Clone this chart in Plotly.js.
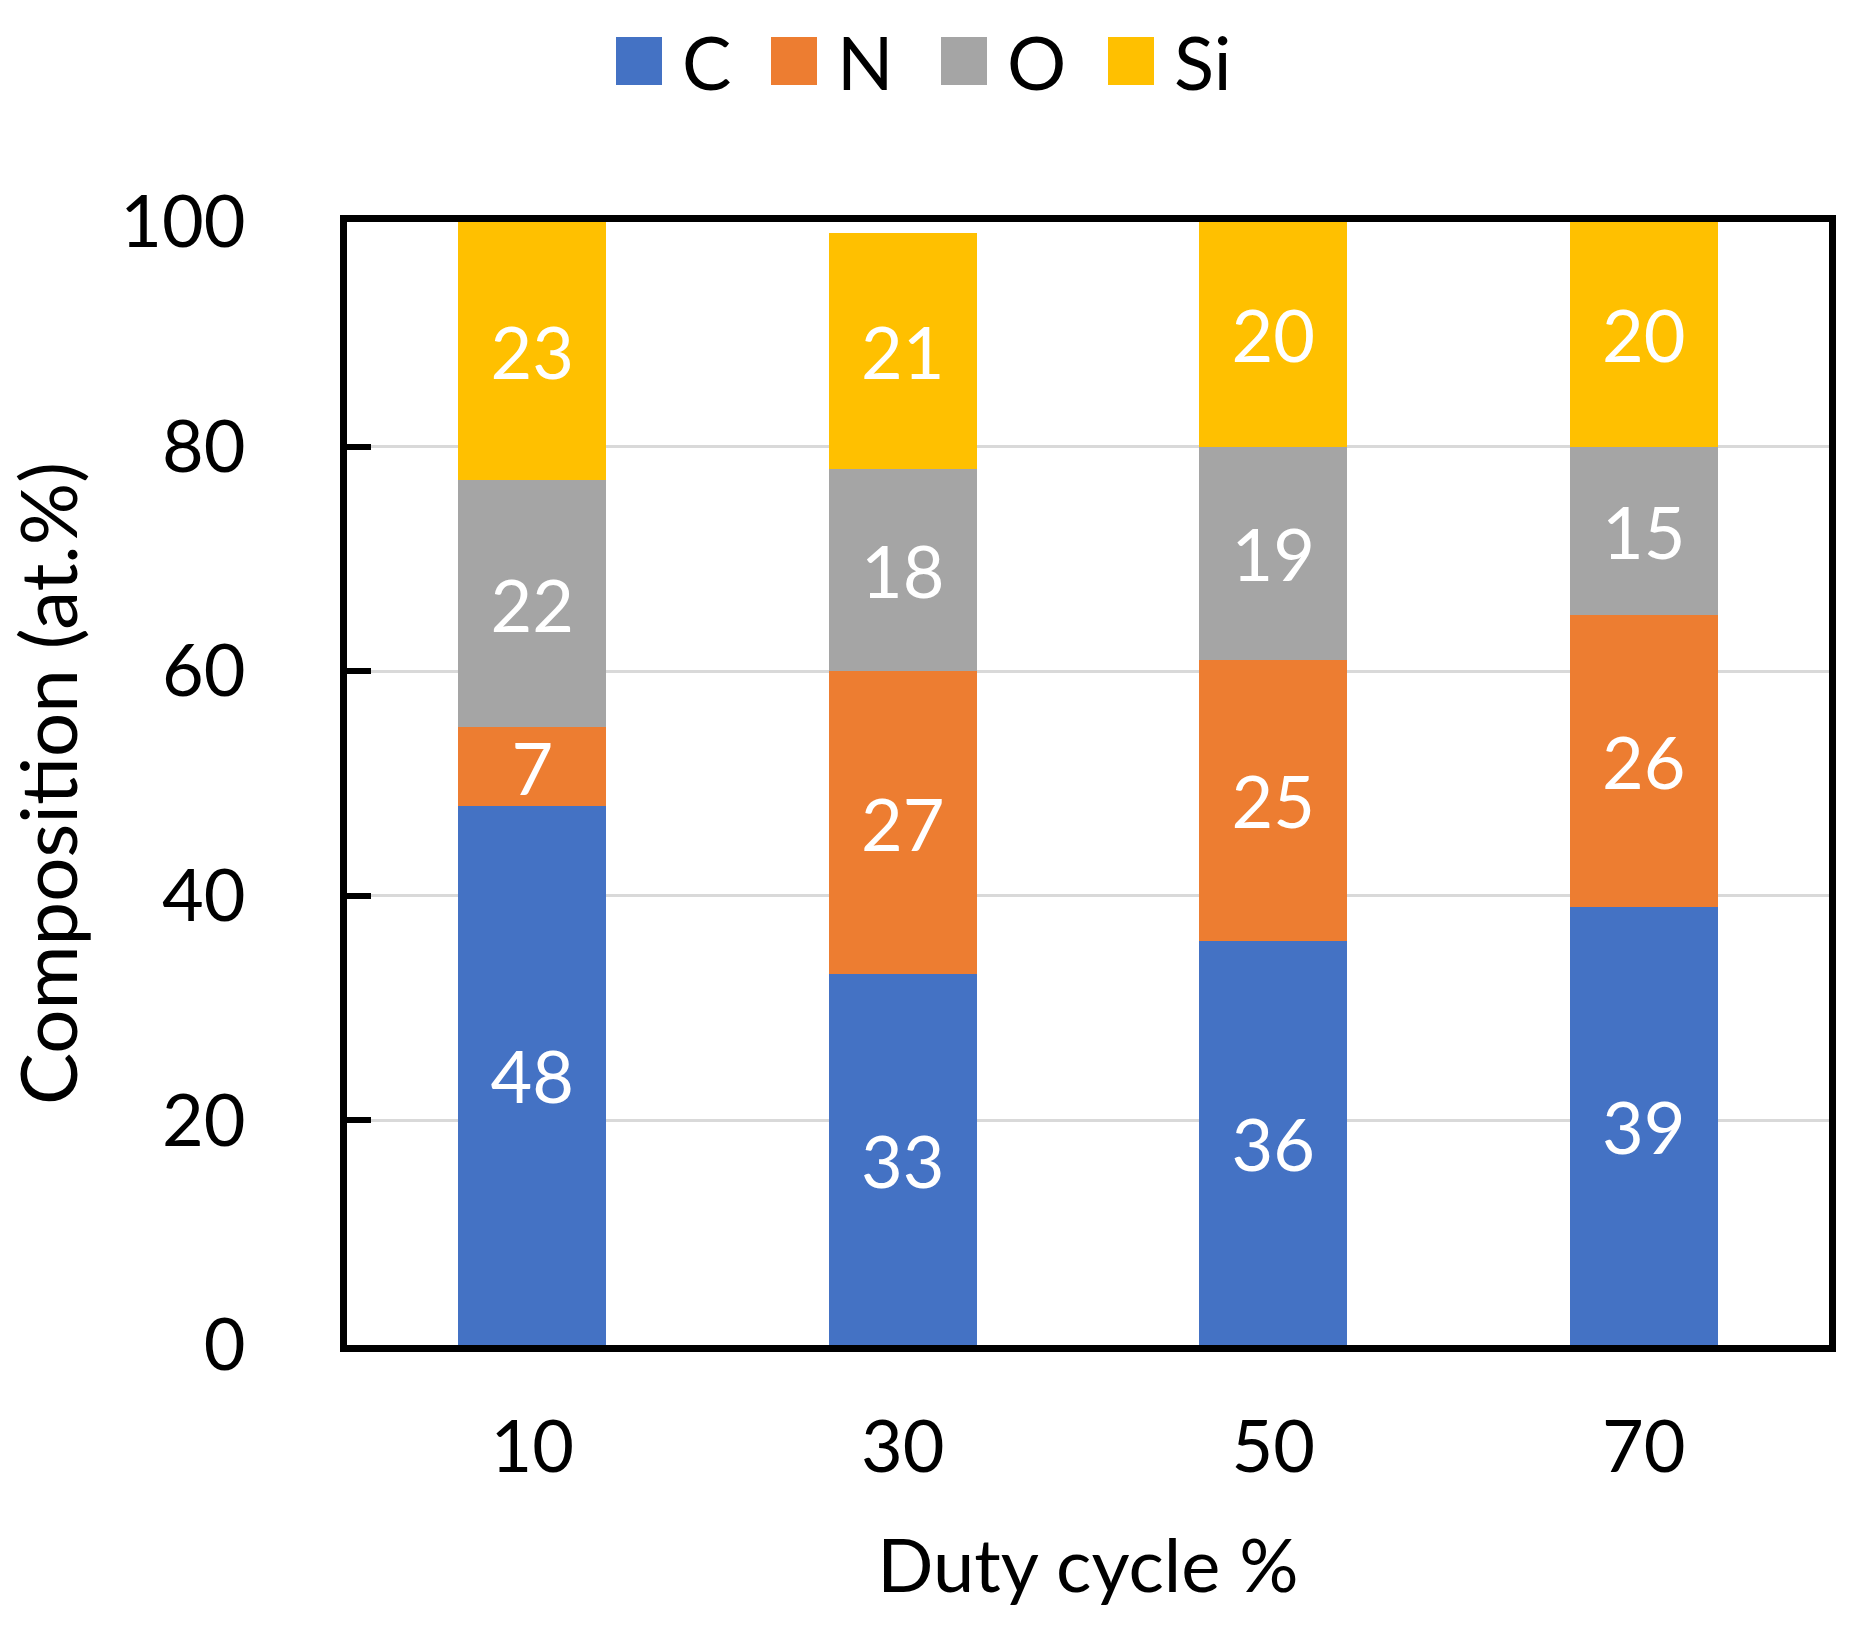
<!DOCTYPE html>
<html>
<head>
<meta charset="utf-8">
<script src="https://cdn.plot.ly/plotly-3.0.1.min.js"></script>
<style>
  body { margin: 0; background: #fff; }
  #chart { width: 1855px; height: 1640px; }
</style>
</head>
<body>
<div id="chart"></div>
<script>
// duty cycle categories
var dutyCycle = ["10", "30", "50", "70"];

// composition (at.%) per element
var elements = ["C", "N", "O", "Si"];
var carbon   = [48, 33, 36, 39];
var nitrogen = [7, 27, 25, 26];
var oxygen   = [22, 18, 19, 15];
var silicon  = [23, 21, 20, 20];

var yTicks = [0, 20, 40, 60, 80, 100];

var colors = ["#4472C4", "#ED7D31", "#A5A5A5", "#FFC000"];
var series = [carbon, nitrogen, oxygen, silicon];

var font = "Lato, 'Open Sans', sans-serif";

// plot box in pixels
var W = 1855, H = 1640;
var L = 347, R = 1829, T = 222, B = 1345;

var traces = series.map(function (vals, i) {
    return {
        type: "bar",
        name: elements[i],
        x: dutyCycle,
        y: vals,
        marker: { color: colors[i] },
        text: vals.map(String),
        textposition: "inside",
        insidetextanchor: "middle",
        constraintext: "none",
        textangle: 0,
        textfont: { family: font, size: 72, color: "#ffffff" },
        hoverinfo: "x+y+name",
        showlegend: false
    };
});

// legend drawn by hand so the swatches can be large
var legendLeft = [616, 771, 941, 1108];
var px = function (x) { return (x - L) / (R - L); };
var py = function (y) { return (B - y) / (B - T); };

var shapes = [];
var annotations = [];
elements.forEach(function (name, i) {
    shapes.push({
        type: "rect", xref: "paper", yref: "paper",
        x0: px(legendLeft[i]), x1: px(legendLeft[i] + 46),
        y0: py(85), y1: py(37),
        fillcolor: colors[i], line: { width: 0 }
    });
    annotations.push({
        xref: "paper", yref: "paper",
        x: px(legendLeft[i] + 64), y: py(62),
        xanchor: "left", yanchor: "middle",
        text: name, showarrow: false,
        font: { family: font, size: 74, color: "#000" }
    });
});

var layout = {
    width: W,
    height: H,
    margin: { l: L, r: W - R, t: T, b: H - B, pad: 0 },
    paper_bgcolor: "#ffffff",
    plot_bgcolor: "#ffffff",
    barmode: "stack",
    bargap: 0.6,
    showlegend: false,
    font: { family: font, size: 72, color: "#000" },
    xaxis: {
        type: "category",
        showline: true, mirror: true,
        linecolor: "#000", linewidth: 7,
        ticks: "",
        ticklabelstandoff: 34,
        tickfont: { family: font, size: 72, color: "#000" },
        title: { text: "Duty cycle %", standoff: 56, font: { family: font, size: 74, color: "#000" } }
    },
    yaxis: {
        range: [0, 100],
        tickvals: yTicks,
        ticktext: yTicks.map(String),
        showline: true, mirror: true,
        linecolor: "#000", linewidth: 7,
        ticks: "inside", ticklen: 24, tickwidth: 6, tickcolor: "#000",
        ticklabelstandoff: 80,
        showgrid: true, gridcolor: "#d9d9d9", gridwidth: 3,
        zeroline: false,
        tickfont: { family: font, size: 72, color: "#000" },
        title: { text: "Composition (at.%)", standoff: 30, font: { family: font, size: 78, color: "#000" } }
    },
    shapes: shapes,
    annotations: annotations
};

Plotly.newPlot("chart", traces, layout, { staticPlot: true });
</script>
</body>
</html>
